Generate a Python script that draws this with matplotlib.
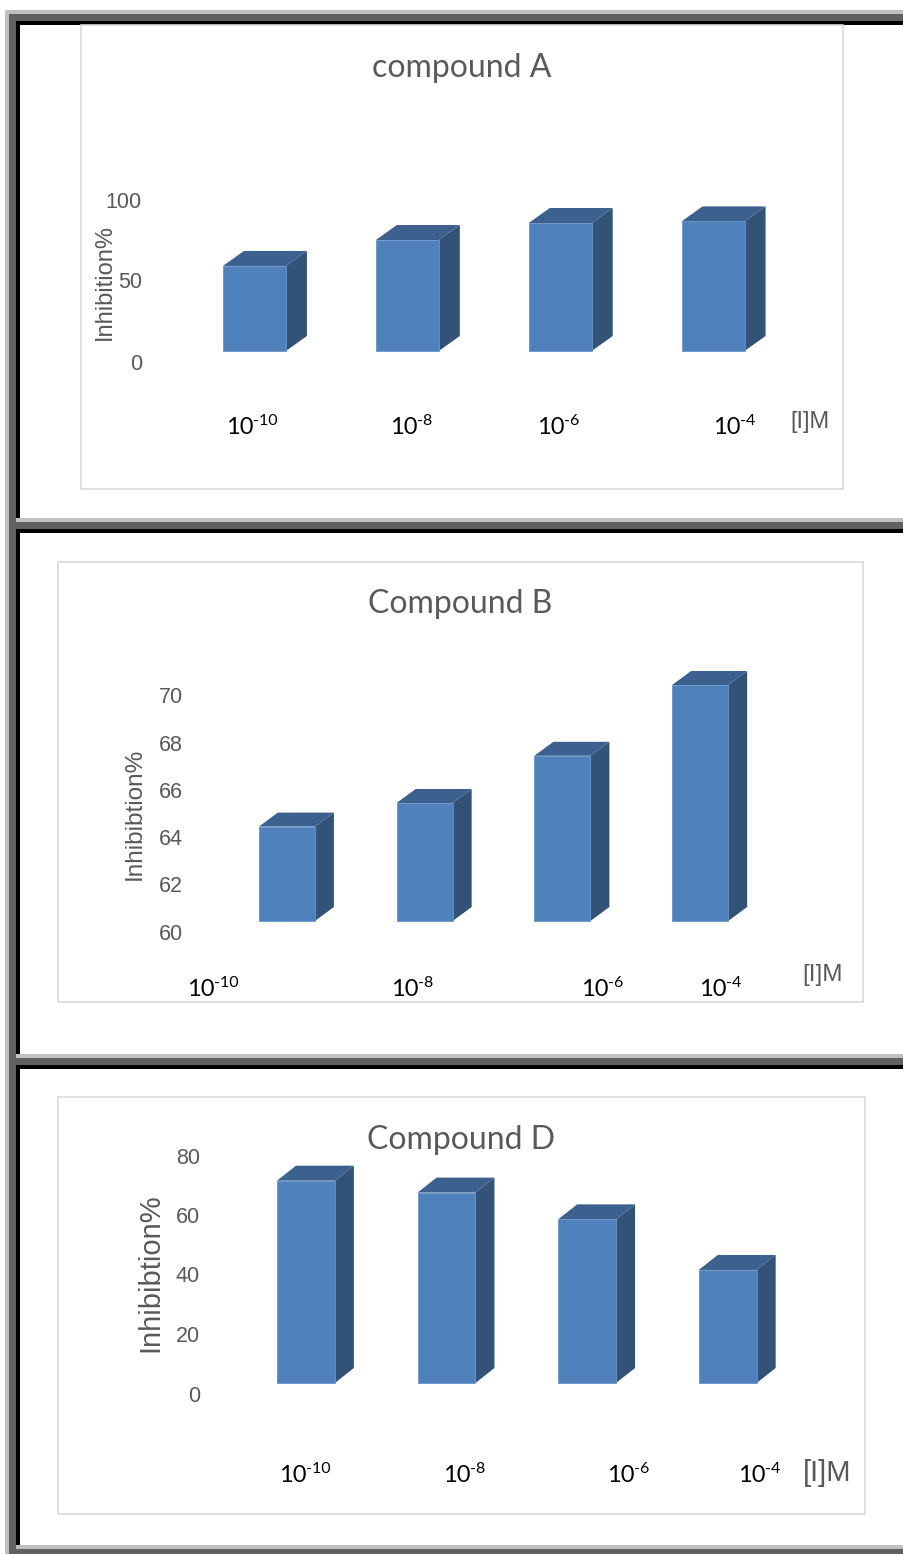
import numpy as np
import matplotlib
matplotlib.use("Agg")
import matplotlib.pyplot as plt
from matplotlib.patches import Rectangle, Polygon
from matplotlib import transforms

# inhibition data for the three compounds
conc_exp = ["-10", "-8", "-6", "-4"]
inhib_A = [52.5, 68.5, 79, 80]
inhib_B = [64, 65, 67, 70]
inhib_D = [68, 64, 55, 38]

ticks_A = [0, 50, 100]
ticks_B = [60, 62, 64, 66, 68, 70]
ticks_D = [0, 20, 40, 60, 80]

W, H = 904, 1554
FRONT = "#4F81BD"
SIDE = "#325278"
TOP = "#3C618E"
GRAY = "#595959"

fig = plt.figure(figsize=(W / 100, H / 100), dpi=100)
bg = fig.add_axes([0, 0, 1, 1])
bg.set_xlim(0, W)
bg.set_ylim(H, 0)
bg.axis("off")


def band(x0, y0, x1, y1, color):
    bg.add_patch(Rectangle((x0, y0), x1 - x0, y1 - y0, color=color, lw=0))


# table-cell style borders
band(5, 10, 9, H, "#c0c0c0")
band(9, 14, 16, H, "#606060")
band(16, 21, 20, H, "#000000")
band(5, 10, W, 14, "#c0c0c0")
band(9, 14, W, 21, "#606060")
band(16, 21, W, 25, "#000000")
for y in (518, 1054):
    band(16, y, W, y + 4, "#c0c0c0")
    band(9, y + 4, W, y + 11, "#606060")
    band(16, y + 11, W, y + 15, "#000000")
band(16, 1545, W, 1549, "#c0c0c0")
band(9, 1549, W, H, "#606060")


def axes_px(left, top, right, bottom):
    return fig.add_axes([left / W, 1 - bottom / H, (right - left) / W, (bottom - top) / H])


def panel(frame, title, title_y, title_size, values, ticks, tick_right, ylabel,
          ylabel_xy, ylabel_size, plot_box, width, depth, xlab_left, xlab_y,
          xlab_size, unit_xy, unit_size):
    fx0, fy0, fx1, fy1 = frame
    bg.add_patch(Rectangle((fx0, fy0), fx1 - fx0, fy1 - fy0, fill=False,
                           ec="#d9d9d9", lw=1.2))
    bg.text((fx0 + fx1) / 2, title_y, title, ha="center", va="center",
            fontsize=title_size, color=GRAY, family="Lato")

    left, top, right, bottom = plot_box
    ax = axes_px(left, top, right, bottom)
    ax.set_xlim(-0.5, 3.5)
    ax.set_ylim(ticks[0], ticks[-1])
    ax.axis("off")

    x = np.arange(len(values))
    base = ticks[0]
    ax.bar(x, np.array(values) - base, bottom=base, width=width, color=FRONT,
           ec="#6a93c8", lw=0.6, zorder=3, clip_on=False)

    # depth of the 3-D columns, converted from pixels into data units
    dx = depth[0] * 4.0 / (right - left)
    dy = depth[1] * (ticks[-1] - ticks[0]) / (bottom - top)
    for xi, v in zip(x, values):
        l, r = xi - width / 2, xi + width / 2
        ax.add_patch(Polygon([(r, base), (r + dx, base + dy), (r + dx, v + dy), (r, v)],
                             closed=True, color=SIDE, lw=0, zorder=2, clip_on=False))
        ax.add_patch(Polygon([(l, v), (l + dx, v + dy), (r + dx, v + dy), (r, v)],
                             closed=True, color=TOP, lw=0, zorder=2, clip_on=False))

    # value labels sit a little below their level, as on a 3-D back wall
    tr = transforms.offset_copy(
        transforms.blended_transform_factory(bg.transData, ax.transData),
        fig=fig, x=0, y=-13, units="dots")
    for t in ticks:
        ax.text(tick_right, t, str(t), transform=tr, ha="right", va="center",
                fontsize=15.5, color=GRAY, family="Liberation Sans")
    bg.text(ylabel_xy[0], ylabel_xy[1], ylabel, rotation=90, ha="center",
            va="center", fontsize=ylabel_size, color=GRAY, family="Liberation Sans")

    for lx, e in zip(xlab_left, conc_exp):
        b = bg.text(lx, xlab_y, "10", ha="left", va="center", fontsize=xlab_size,
                    color="black", family="Lato")
        bg.annotate(e, xy=(1.0, 1.1), xycoords=b, ha="left", va="top",
                    fontsize=xlab_size * 0.68, color="black", family="Lato")
    bg.text(unit_xy[0], unit_xy[1], "[I]M", ha="left", va="center",
            fontsize=unit_size, color=GRAY, family="Liberation Sans")


panel(frame=(81, 25, 843, 489), title="compound A", title_y=68, title_size=23,
      values=inhib_A, ticks=ticks_A, tick_right=142, ylabel="Inhibition%",
      ylabel_xy=(105, 282), ylabel_size=17,
      plot_box=(178, 189, 789.5, 351), width=0.412, depth=(21, 15),
      xlab_left=[226, 390, 537, 713], xlab_y=427, xlab_size=17,
      unit_xy=(790, 422), unit_size=17)

panel(frame=(58, 562, 863, 1002), title="Compound B", title_y=604, title_size=23,
      values=inhib_B, ticks=ticks_B, tick_right=183, ylabel="Inhibibtion%",
      ylabel_xy=(135, 814), ylabel_size=17.5,
      plot_box=(218, 685, 769, 921), width=0.407, depth=(19, 14),
      xlab_left=[187, 391, 581, 699], xlab_y=989, xlab_size=17,
      unit_xy=(802, 975), unit_size=17.5)

panel(frame=(58, 1097, 865, 1514), title="Compound D", title_y=1140, title_size=23,
      values=inhib_D, ticks=ticks_D, tick_right=200, ylabel="Inhibibtion%",
      ylabel_xy=(150, 1273), ylabel_size=21,
      plot_box=(235.6, 1145, 798, 1383), width=0.412, depth=(19, 15),
      xlab_left=[279, 443, 607, 738], xlab_y=1475, xlab_size=17,
      unit_xy=(803, 1473), unit_size=21)

fig.savefig("out.png", dpi=100)
